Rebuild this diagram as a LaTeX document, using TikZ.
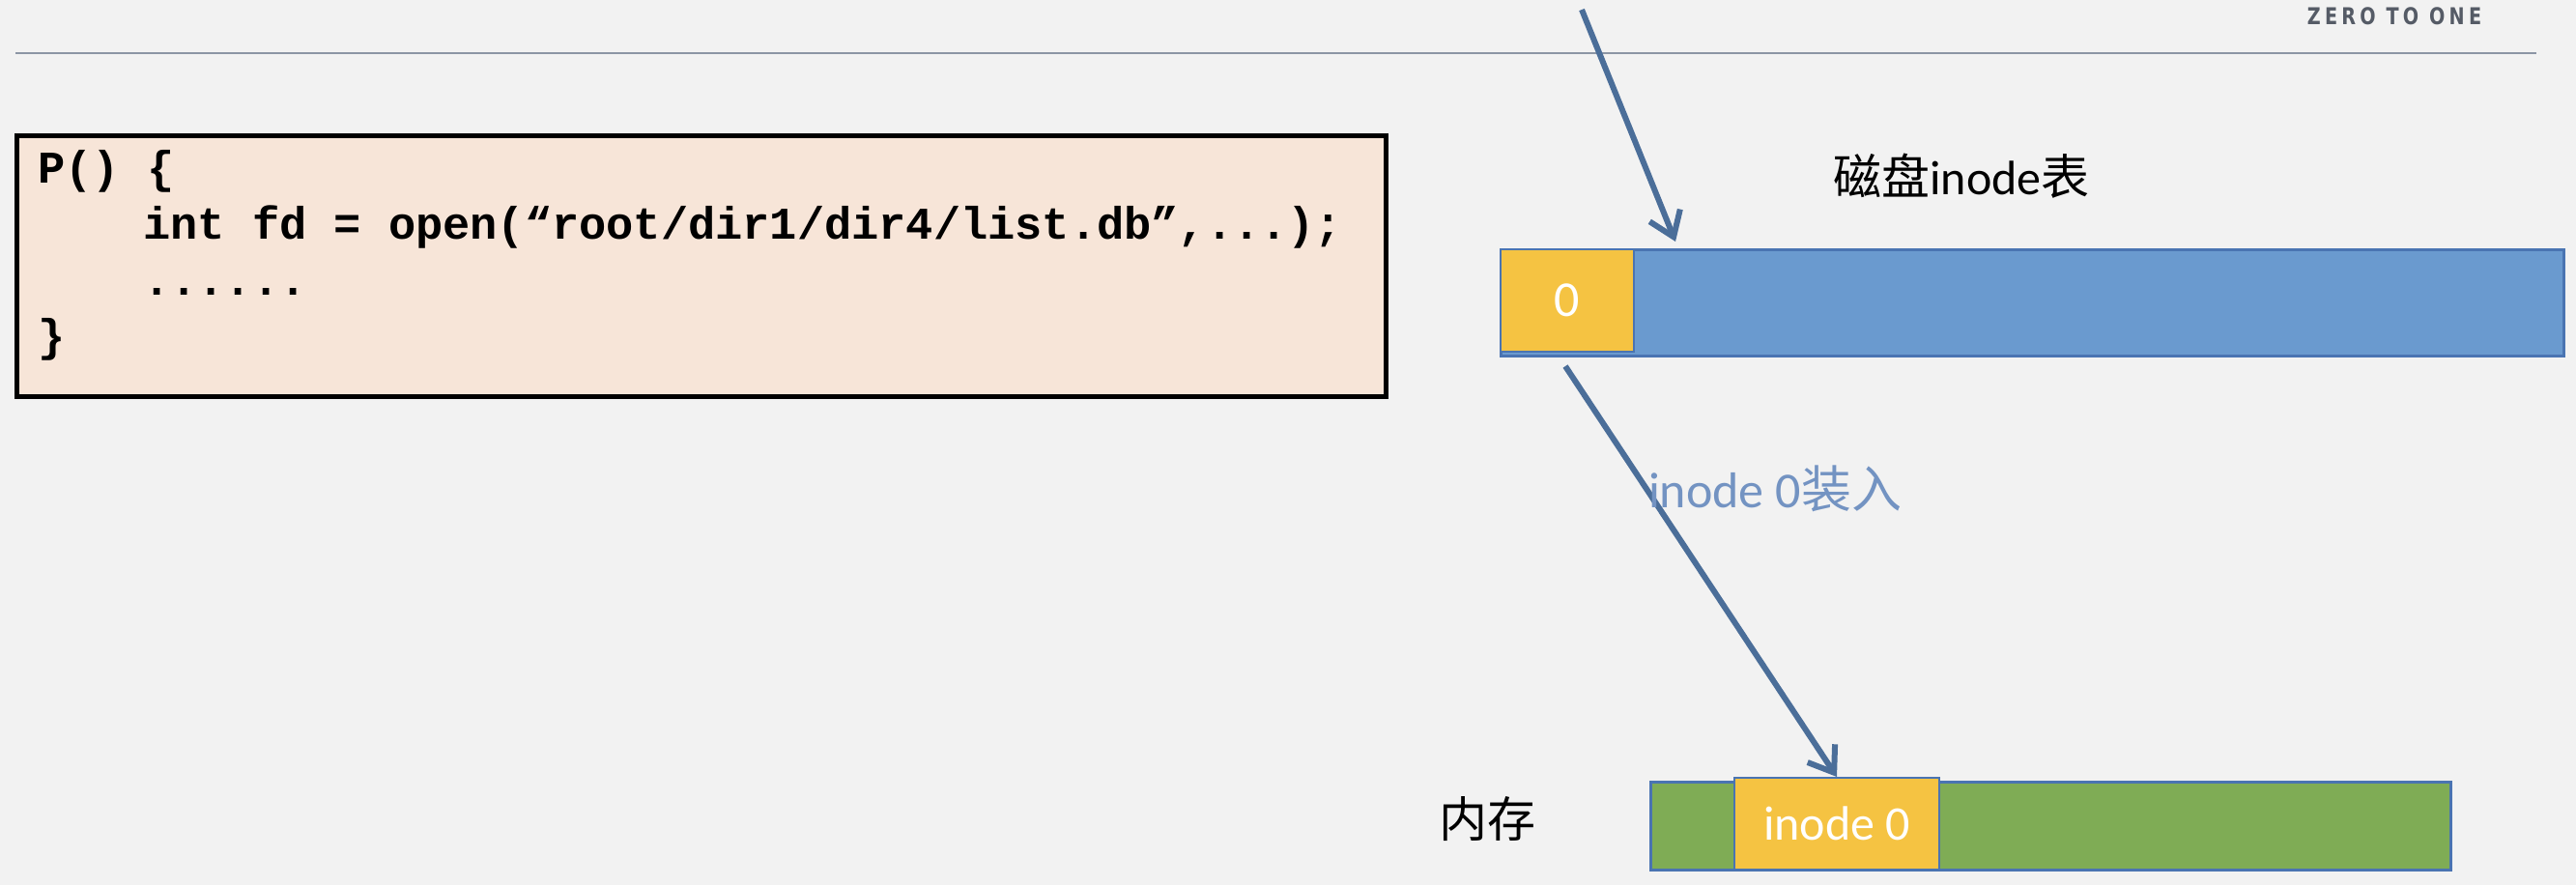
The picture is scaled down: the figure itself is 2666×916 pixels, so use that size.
\documentclass[tikz,border=0pt]{standalone}
\usepackage{fontspec}
\setmainfont{Carlito}
\newfontfamily\cjk{Noto Sans CJK SC}
\newfontfamily\codefont{Liberation Mono}
\newfontfamily\logofont[LetterSpace=22]{DejaVu Sans}
\usetikzlibrary{arrows.meta,calc}
\definecolor{bgc}{HTML}{F2F2F2}
\definecolor{rulec}{HTML}{8C96A5}
\definecolor{peach}{HTML}{F7E5D8}
\definecolor{diskblue}{HTML}{6A9ACF}
\definecolor{edgeblue}{HTML}{4A74B2}
\definecolor{ycell}{HTML}{F5C342}
\definecolor{memgreen}{HTML}{7FAC55}
\definecolor{arrowc}{HTML}{4B6E99}
\definecolor{labelc}{HTML}{7393C2}
\definecolor{logoc}{HTML}{555B66}
\tikzset{
  codebox/.style={draw=black, line width=4.5pt, fill=peach, inner sep=0pt},
  codeline/.style={anchor=base west, inner sep=0pt, font=\codefont\bfseries\fontsize{47}{56}\selectfont},
  bar/.style={draw=edgeblue, line width=3pt, inner sep=0pt},
  cellbox/.style={draw=edgeblue, line width=2pt, fill=ycell, inner sep=0pt, text=white},
  arr/.style={draw=arrowc, line width=6pt, -{Straight Barb[length=24pt,width=34pt]}},
  lbl/.style={inner sep=0pt, font=\fontsize{50}{60}\selectfont}
}
\begin{document}
\begin{tikzpicture}[x=1pt,y=-1pt]
\fill[bgc] (0,0) rectangle (2666,916);
\useasboundingbox (0,0) rectangle (2666,916);
% header
\draw[rulec, line width=2.5pt] (16,55) -- (2625,55);
\node[inner sep=0pt, text=logoc, font=\logofont\bfseries\fontsize{24}{28}\selectfont, xscale=0.8] (logo) at (2478,17) {ZERO TO ONE};
% code box
\node[codebox, anchor=north west, minimum width=1417, minimum height=270] (code) at (15,138) {};
\node[codeline] (l1) at (39,189) {P() \{};
\node[codeline] (l2) at (148,247) {int fd = open(“root/dir1/dir4/list.db”,...);};
\node[codeline] (l3) at (148,305) {......};
\node[codeline] (l4) at (39,363) {\}};
% disk inode table
\node[lbl] (disklbl) at (2030,182) {{\cjk 磁盘}inode{\cjk 表}};
\node[bar, fill=diskblue, anchor=north west, minimum width=1100, minimum height=110] (disk) at (1552,257) {};
\node[cellbox, anchor=north west, minimum width=138, minimum height=106, font=\fontsize{52}{60}\selectfont] (cell0) at (1552,257) {0};
% memory
\node[lbl] (memlbl) at (1539,848) {\cjk 内存};
\node[bar, fill=memgreen, anchor=north west, minimum width=828, minimum height=91] (mem) at (1707,808) {};
\node[cellbox, anchor=north west, minimum width=212, minimum height=95, font=\fontsize{50}{60}\selectfont] (mcell) at (1794,804) {inode 0};
% arrows
\coordinate (src) at (1637,10);
\draw[arr] (src) -- ($(disk.north west)+(182,-7)$);
\draw[arr] ($(cell0.south)+(-2,14)$) -- (mcell.north);
\node[lbl, text=labelc, font=\fontsize{52}{60}\selectfont] (loadlbl) at (1837,506) {inode 0{\cjk 装入}};
\end{tikzpicture}
\end{document}
